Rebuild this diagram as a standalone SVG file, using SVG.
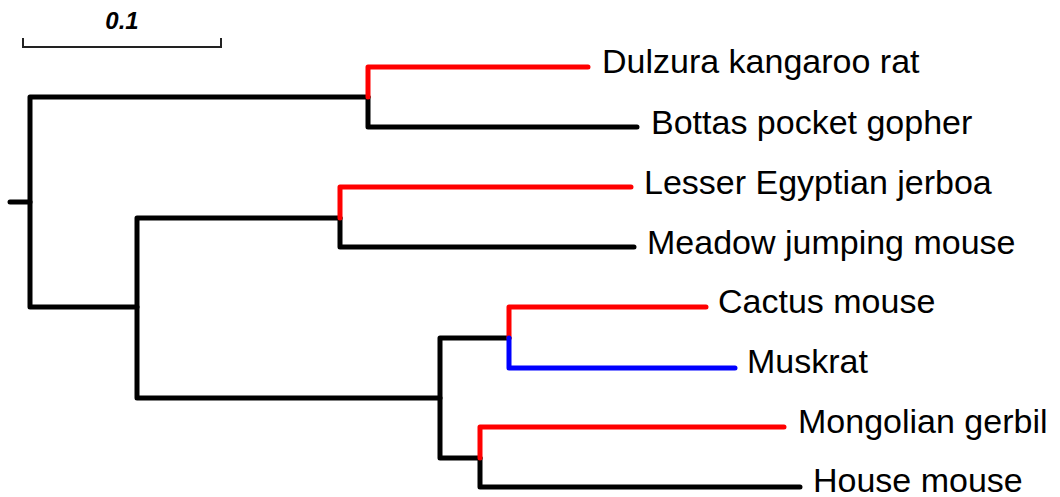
<svg xmlns="http://www.w3.org/2000/svg" width="1060" height="497" viewBox="0 0 1060 497">
  <style>
    .br { fill: none; stroke-width: 5; stroke-linecap: round; stroke-linejoin: round; }
    .k { stroke: #000; }
    .r { stroke: #ff0000; }
    .b { stroke: #0000ff; }
    .lbl { font-family: "Liberation Sans", Arial, sans-serif; font-size: 34px; fill: #000; }
    .scale { fill: none; stroke: #222; stroke-width: 2; }
    .scaletxt { font-family: "Liberation Sans", Arial, sans-serif; font-size: 24px; font-weight: 900; font-style: italic; fill: #000; text-anchor: middle; }
  </style>
  <rect width="1060" height="497" fill="#fff"/>

  <!-- scale bar -->
  <g id="scale-bar">
    <path class="scale" d="M23,38 V47 H221 V38"/>
    <text class="scaletxt" x="122" y="29">0.1</text>
  </g>

  <!-- tree branches -->
  <g id="connectors">
    <!-- root -->
    <path class="br k" d="M10,202 H30"/>
    <path class="br k" d="M368,97 H30 V307 H137"/>
    <!-- Heteromyidae / Geomyidae -->
    <path class="br k" d="M368,97 V127 H637"/>
    <path class="br r" d="M368,97 V67 H588"/>
    <!-- Muroidea + Dipodoidea -->
    <path class="br k" d="M340,218 H137 V398 H440"/>
    <path class="br k" d="M340,218 V247 H634"/>
    <path class="br r" d="M340,218 V187 H631"/>
    <!-- Muroidea -->
    <path class="br k" d="M509,338 H440 V458 H480"/>
    <path class="br r" d="M509,338 V307 H706"/>
    <path class="br b" d="M509,338 V368 H735"/>
    <path class="br k" d="M480,458 V487 H800"/>
    <path class="br r" d="M480,458 V427 H784"/>
  </g>

  <!-- leaves -->
  <g id="leaf-dulzura"><text class="lbl" x="602" y="73">Dulzura kangaroo rat</text></g>
  <g id="leaf-bottas"><text class="lbl" x="651" y="134">Bottas pocket gopher</text></g>
  <g id="leaf-jerboa"><text class="lbl" x="644" y="194">Lesser Egyptian jerboa</text></g>
  <g id="leaf-meadow"><text class="lbl" x="647" y="254">Meadow jumping mouse</text></g>
  <g id="leaf-cactus"><text class="lbl" x="718" y="313">Cactus mouse</text></g>
  <g id="leaf-muskrat"><text class="lbl" x="747" y="373">Muskrat</text></g>
  <g id="leaf-gerbil"><text class="lbl" x="798" y="433">Mongolian gerbil</text></g>
  <g id="leaf-house"><text class="lbl" x="813" y="492">House mouse</text></g>
</svg>
